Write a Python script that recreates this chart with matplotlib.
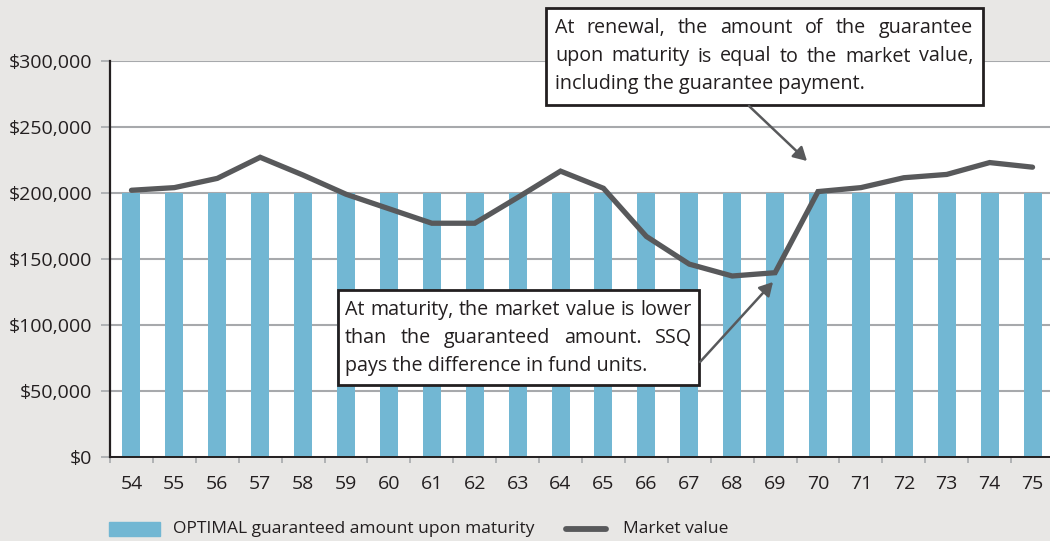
import matplotlib
matplotlib.use("Agg")
import matplotlib.pyplot as plt
from matplotlib.patches import Rectangle, FancyArrowPatch
from matplotlib.lines import Line2D
import numpy as np

ages = [str(a) for a in range(54, 76)]
guaranteed = [200000] * 22
market = [202000, 204000, 211000, 227000, 213500, 199000, 188000, 177000, 177000,
          196500, 216500, 203500, 167000, 146000, 137000, 139500, 201000, 204000,
          211500, 214000, 223000, 219500]
yticks = [0, 50000, 100000, 150000, 200000, 250000, 300000]
ytick_labels = ["$0", "$50,000", "$100,000", "$150,000", "$200,000", "$250,000", "$300,000"]
legend_labels = ["OPTIMAL guaranteed amount upon maturity", "Market value"]
note1 = [("At renewal, the amount of the guarantee", True),
         ("upon maturity is equal to the market value,", True),
         ("including the guarantee payment.", False)]
note2 = [("At maturity, the market value is lower", True),
         ("than the guaranteed amount. SSQ", True),
         ("pays the difference in fund units.", False)]

W, H = 1050, 541
FONT = "Open Sans"
BG = "#E8E7E5"
BAR = "#72B7D3"
LINE = "#58595B"
GRID = "#A7A9AC"
DARK = "#231F20"

fig = plt.figure(figsize=(W / 100, H / 100), dpi=100, facecolor=BG)

def fx(px):
    return px / W

def fy(py):
    return 1 - py / H

ax = fig.add_axes([fx(110), fy(456.7), fx(1054) - fx(110), fy(61) - fy(456.7)])
ax.set_facecolor("white")
x = np.arange(len(ages))
ax.bar(x, guaranteed, width=0.42, color=BAR, zorder=2)
ax.plot(x, market, color=LINE, lw=3.8, solid_capstyle="round", solid_joinstyle="miter", zorder=3)
ax.set_xlim(-0.5, len(ages) - 0.5)
ax.set_ylim(0, 300000)
ax.set_yticks(yticks)
ax.set_yticklabels(ytick_labels, fontfamily=FONT, fontsize=14, color=DARK)
ax.set_xticks(x)
ax.set_xticklabels(ages, fontfamily=FONT, fontsize=14, color=DARK)
ax.set_xticks(np.arange(len(ages) + 1) - 0.5, minor=True)
ax.tick_params(axis="x", which="major", length=0, pad=13)
ax.tick_params(axis="x", which="minor", length=4, width=1.2, color=GRID)
ax.tick_params(axis="y", length=6.5, width=1.2, color=GRID, pad=6.5)
ax.grid(axis="y", color=GRID, lw=1.5, zorder=1)
ax.set_axisbelow(True)
for s in ["top", "right"]:
    ax.spines[s].set_visible(False)
ax.spines["left"].set_color(DARK)
ax.spines["left"].set_linewidth(1.6)
ax.spines["bottom"].set_color(DARK)
ax.spines["bottom"].set_linewidth(1.4)

# Legend (manual)
fig.patches.append(Rectangle((fx(109), fy(536)), fx(160) - fx(109), fy(522) - fy(536),
                             transform=fig.transFigure, color=BAR))
fig.text(fx(173), fy(529), legend_labels[0], fontfamily=FONT, fontsize=12.5, color=DARK, va="center")
fig.lines.append(Line2D([fx(566), fx(606)], [fy(529), fy(529)], transform=fig.transFigure,
                        color=LINE, lw=4.2, solid_capstyle="round"))
fig.text(fx(623), fy(529), legend_labels[1], fontfamily=FONT, fontsize=12.5, color=DARK, va="center")

# Annotation boxes
def box(x0, y0, x1, y1):
    fig.patches.append(Rectangle((fx(x0), fy(y1)), fx(x1) - fx(x0), fy(y0) - fy(y1),
                                 transform=fig.transFigure, facecolor="white",
                                 edgecolor=DARK, lw=2, zorder=5))

renderer = fig.canvas.get_renderer()

def justified(lines, xl, xr, baselines, size=14.2):
    for (line, just), yb in zip(lines, baselines):
        if not just:
            fig.text(fx(xl), fy(yb), line, fontfamily=FONT, fontsize=size, color=DARK,
                     va="baseline", ha="left", zorder=6)
            continue
        words = line.split()
        widths = []
        for w_ in words:
            t = fig.text(0, 0, w_, fontfamily=FONT, fontsize=size)
            widths.append(t.get_window_extent(renderer).width)
            t.remove()
        gap = (xr - xl - sum(widths)) / (len(words) - 1)
        pos = xl
        for w_, wd in zip(words, widths):
            fig.text(fx(pos), fy(yb), w_, fontfamily=FONT, fontsize=size, color=DARK,
                     va="baseline", ha="left", zorder=6)
            pos += wd + gap

box(546, 8, 983, 105)
justified(note1, 555, 973, [33, 61.5, 89.5])
box(338, 290, 699, 385)
justified(note2, 345, 692, [315, 343, 371])

def arrow(p0, p1):
    a = FancyArrowPatch((fx(p0[0]), fy(p0[1])), (fx(p1[0]), fy(p1[1])),
                        transform=fig.transFigure, arrowstyle="-|>,head_length=8,head_width=4.5",
                        color=LINE, lw=1.8, zorder=7, shrinkA=0, shrinkB=0)
    fig.patches.append(a)

arrow((749, 106), (807, 161))
arrow((700, 362), (773, 282))

fig.savefig("out.png", dpi=100, facecolor=BG)
